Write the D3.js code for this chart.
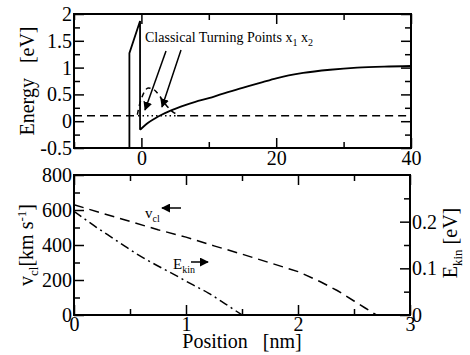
<!DOCTYPE html>
<html>
<head>
<meta charset="utf-8">
<script src="https://cdn.jsdelivr.net/npm/d3@7"></script>
<style>
  body { margin: 0; background: #fff; }
</style>
</head>
<body>
<svg id="drawing_region"></svg>
<script>
// ---- data ----
// top panel: potential energy vs position [nm]
const wallX = [-1.78, -1.78, -0.2, -0.2];
const wallE = [-0.7, 1.27, 1.87, -0.16];
const potX = [-0.2, 0.5, 1, 2, 3, 4, 5, 6.5, 8, 10, 12, 15, 18, 20, 24, 28, 32, 36, 40];
const potE = [-0.16, -0.08, -0.03, 0.05, 0.12, 0.18, 0.23, 0.3, 0.36, 0.43, 0.51, 0.62, 0.73, 0.8, 0.9, 0.96, 1.0, 1.02, 1.03];
// dashed wave bump near the wall
const waveX = [-0.6, -0.3, 0, 0.5, 1, 1.6, 2.2, 3, 3.8, 4.6, 5.4];
const waveE = [0.12, 0.3, 0.42, 0.56, 0.62, 0.61, 0.55, 0.42, 0.28, 0.18, 0.12];
const energyLevel = 0.1;
const turnX1 = -0.5, turnX2 = 5.3;

// bottom panel
const vclX = [0, 0.25, 0.5, 0.75, 1.0, 1.25, 1.5, 1.75, 2.0, 2.2, 2.35, 2.5, 2.6, 2.7];
const vclV = [630, 582, 535, 487, 445, 395, 348, 298, 248, 190, 140, 80, 40, 0];
const ekinX = [0, 0.1, 0.2, 0.3, 0.45, 0.6, 0.75, 0.9, 1.05, 1.2, 1.35, 1.5];
const ekinE = [0.222, 0.205, 0.188, 0.172, 0.148, 0.125, 0.105, 0.086, 0.066, 0.047, 0.024, 0.0];

const topXTicks = [0, 20, 40], topXMinor = [-10, 10, 30];
const topYTicks = [-0.5, 0, 0.5, 1, 1.5, 2], topYMinor = [-0.25, 0.25, 0.75, 1.25, 1.75];
const botXTicks = [0, 1, 2, 3], botXMinor = [0.5, 1.5, 2.5];
const vTicks = [0, 200, 400, 600, 800], vMinor = [100, 300, 500, 700];
const eTicks = [0, 0.1, 0.2], eMinor = [0.05, 0.15, 0.25];

const width = 470, height = 355;
const svg = d3.select('#drawing_region').attr('width', width).attr('height', height);

const SERIF = '"Liberation Serif"';
const fmt = d => String(d);
const MAJ = 10, MIN = 6;

// ---- top panel ----
const tx = d3.scaleLinear().domain([-10, 40]).range([74, 411]);
const ty = d3.scaleLinear().domain([-0.5, 2]).range([148, 14]);

svg.append('clipPath').attr('id', 'clipTop').append('rect')
    .attr('x', 74).attr('y', 14).attr('width', 337).attr('height', 134);

function addAxis(axis, tf) {
    const g = svg.append('g').attr('transform', tf).call(axis).attr('font-size', 20);
    g.select('.domain').remove();
    g.selectAll('line').attr('stroke', '#000').attr('stroke-width', 1.5);
    return g;
}

addAxis(d3.axisBottom(tx).tickValues(topXTicks).tickFormat(fmt).tickSize(-MAJ).tickPadding(3), `translate(0,${ty(-0.5)})`);
addAxis(d3.axisBottom(tx).tickValues(topXMinor).tickFormat('').tickSize(-MIN), `translate(0,${ty(-0.5)})`);
addAxis(d3.axisTop(tx).tickValues(topXTicks).tickFormat('').tickSize(-MAJ), `translate(0,${ty(2)})`);
addAxis(d3.axisTop(tx).tickValues(topXMinor).tickFormat('').tickSize(-MIN), `translate(0,${ty(2)})`);
addAxis(d3.axisLeft(ty).tickValues(topYTicks).tickFormat(fmt).tickSize(-MAJ).tickPadding(2), `translate(${tx(-10)},0)`);
addAxis(d3.axisLeft(ty).tickValues(topYMinor).tickFormat('').tickSize(-MIN), `translate(${tx(-10)},0)`);
addAxis(d3.axisRight(ty).tickValues(topYTicks).tickFormat('').tickSize(-MAJ), `translate(${tx(40)},0)`);
addAxis(d3.axisRight(ty).tickValues(topYMinor).tickFormat('').tickSize(-MIN), `translate(${tx(40)},0)`);

const topPlot = svg.append('g').attr('clip-path', 'url(#clipTop)');
const lineTop = d3.line().x(d => tx(d[0])).y(d => ty(d[1]));
const smoothTop = d3.line().curve(d3.curveMonotoneX).x(d => tx(d[0])).y(d => ty(d[1]));

// energy level: dashed outside, dotted between turning points
topPlot.append('path')
    .attr('d', lineTop([[-10, energyLevel], [turnX1, energyLevel]]))
    .attr('stroke', '#000').attr('stroke-width', 1.5).attr('fill', 'none').attr('stroke-dasharray', '8,5');
topPlot.append('path')
    .attr('d', lineTop([[turnX2, energyLevel], [40, energyLevel]]))
    .attr('stroke', '#000').attr('stroke-width', 1.5).attr('fill', 'none').attr('stroke-dasharray', '8,5');
topPlot.append('path')
    .attr('d', lineTop([[turnX1, energyLevel], [turnX2, energyLevel]]))
    .attr('stroke', '#000').attr('stroke-width', 1.5).attr('fill', 'none').attr('stroke-dasharray', '1.5,3');

topPlot.append('path')
    .attr('d', smoothTop(d3.zip(waveX, waveE)))
    .attr('stroke', '#000').attr('stroke-width', 1.5).attr('fill', 'none').attr('stroke-dasharray', '5,4');

topPlot.append('path')
    .attr('d', lineTop(d3.zip(wallX, wallE)))
    .attr('stroke', '#000').attr('stroke-width', 1.8).attr('fill', 'none');
topPlot.append('path')
    .attr('d', smoothTop(d3.zip(potX, potE)))
    .attr('stroke', '#000').attr('stroke-width', 1.8).attr('fill', 'none');

svg.append('rect')
    .attr('x', 74).attr('y', 14).attr('width', 337).attr('height', 134)
    .attr('fill', 'none').attr('stroke', '#000').attr('stroke-width', 2);

// arrow marker
svg.append('defs').append('marker')
    .attr('id', 'arrow').attr('viewBox', '0 0 10 10').attr('refX', 9).attr('refY', 5)
    .attr('markerWidth', 9).attr('markerHeight', 9).attr('markerUnits', 'userSpaceOnUse')
    .attr('orient', 'auto')
    .append('path').attr('d', 'M0,0 L10,5 L0,10 z').attr('fill', '#000');

const ann = svg.append('text').attr('x', 145).attr('y', 42).attr('font-size', 14);
ann.append('tspan').text('Classical Turning Points x');
ann.append('tspan').attr('font-size', 10).attr('dy', 4).text('1');
ann.append('tspan').attr('dy', -4).text(' x');
ann.append('tspan').attr('font-size', 10).attr('dy', 4).text('2');

[[166, 51, 145, 110], [181, 50, 162, 107]].forEach(a => {
    svg.append('line').attr('x1', a[0]).attr('y1', a[1]).attr('x2', a[2]).attr('y2', a[3])
        .attr('stroke', '#000').attr('stroke-width', 1.5).attr('marker-end', 'url(#arrow)');
});

svg.append('text').attr('transform', `translate(34,${ty(0.75)}) rotate(-90)`)
    .attr('text-anchor', 'middle').attr('font-size', 20).attr('xml:space', 'preserve').text('Energy   [eV]');

// ---- bottom panel ----
const bx = d3.scaleLinear().domain([0, 3]).range([74, 410]);
const by = d3.scaleLinear().domain([0, 800]).range([315, 175]);
const be = d3.scaleLinear().domain([0, 0.3]).range([315, 175]);

addAxis(d3.axisBottom(bx).tickValues(botXTicks).tickFormat(fmt).tickSize(-MAJ).tickPadding(2), `translate(0,${by(0)})`);
addAxis(d3.axisBottom(bx).tickValues(botXMinor).tickFormat('').tickSize(-MIN), `translate(0,${by(0)})`);
addAxis(d3.axisTop(bx).tickValues(botXTicks).tickFormat('').tickSize(-MAJ), `translate(0,${by(800)})`);
addAxis(d3.axisTop(bx).tickValues(botXMinor).tickFormat('').tickSize(-MIN), `translate(0,${by(800)})`);
addAxis(d3.axisLeft(by).tickValues(vTicks).tickFormat(fmt).tickSize(-MAJ).tickPadding(2), `translate(${bx(0)},0)`);
addAxis(d3.axisLeft(by).tickValues(vMinor).tickFormat('').tickSize(-MIN), `translate(${bx(0)},0)`);
addAxis(d3.axisRight(be).tickValues(eTicks).tickFormat(fmt).tickSize(-MAJ).tickPadding(2), `translate(${bx(3)},0)`);
addAxis(d3.axisRight(be).tickValues(eMinor).tickFormat('').tickSize(-MIN), `translate(${bx(3)},0)`);

svg.append('path')
    .attr('d', d3.line().x(d => bx(d[0])).y(d => by(d[1]))(d3.zip(vclX, vclV)))
    .attr('stroke', '#000').attr('stroke-width', 1.5).attr('fill', 'none').attr('stroke-dasharray', '10,6');
svg.append('path')
    .attr('d', d3.line().curve(d3.curveMonotoneX).x(d => bx(d[0])).y(d => be(d[1]))(d3.zip(ekinX, ekinE)))
    .attr('stroke', '#000').attr('stroke-width', 1.5).attr('fill', 'none').attr('stroke-dasharray', '9,4,2,4');

svg.append('rect')
    .attr('x', 74).attr('y', 175).attr('width', 336).attr('height', 140)
    .attr('fill', 'none').attr('stroke', '#000').attr('stroke-width', 2);

// curve labels with arrows
const vl = svg.append('text').attr('x', 145).attr('y', 218).attr('font-size', 15);
vl.append('tspan').text('v');
vl.append('tspan').attr('font-size', 10).attr('dy', 4).text('cl');
svg.append('line').attr('x1', 181).attr('y1', 208).attr('x2', 162).attr('y2', 208)
    .attr('stroke', '#000').attr('stroke-width', 1.5).attr('marker-end', 'url(#arrow)');

const el = svg.append('text').attr('x', 173).attr('y', 269).attr('font-size', 15);
el.append('tspan').text('E');
el.append('tspan').attr('font-size', 10).attr('dy', 4).text('kin');
svg.append('line').attr('x1', 191).attr('y1', 262).attr('x2', 208).attr('y2', 262)
    .attr('stroke', '#000').attr('stroke-width', 1.5).attr('marker-end', 'url(#arrow)');

// axis titles
const vt = svg.append('text').attr('transform', `translate(33,245) rotate(-90)`)
    .attr('text-anchor', 'middle').attr('font-size', 20);
vt.append('tspan').text('v');
vt.append('tspan').attr('font-size', 13).attr('dy', 5).text('cl');
vt.append('tspan').attr('dy', -5).text('[km s');
vt.append('tspan').attr('font-size', 13).attr('dy', -7).text('-1');
vt.append('tspan').attr('dy', 7).text(']');

const et = svg.append('text').attr('transform', `translate(457,243) rotate(-90)`)
    .attr('text-anchor', 'middle').attr('font-size', 20);
et.append('tspan').text('E');
et.append('tspan').attr('font-size', 13).attr('dy', 5).text('kin');
et.append('tspan').attr('dy', -5).text(' [eV]');

svg.append('text').attr('x', 242).attr('y', 348).attr('text-anchor', 'middle')
    .attr('font-size', 20).attr('xml:space', 'preserve').text('Position   [nm]');

// serif everywhere (axis groups set their own family attribute)
svg.selectAll('g').attr('font-family', null);
svg.selectAll('text').style('font-family', SERIF).attr('fill', '#000');
</script>
</body>
</html>
